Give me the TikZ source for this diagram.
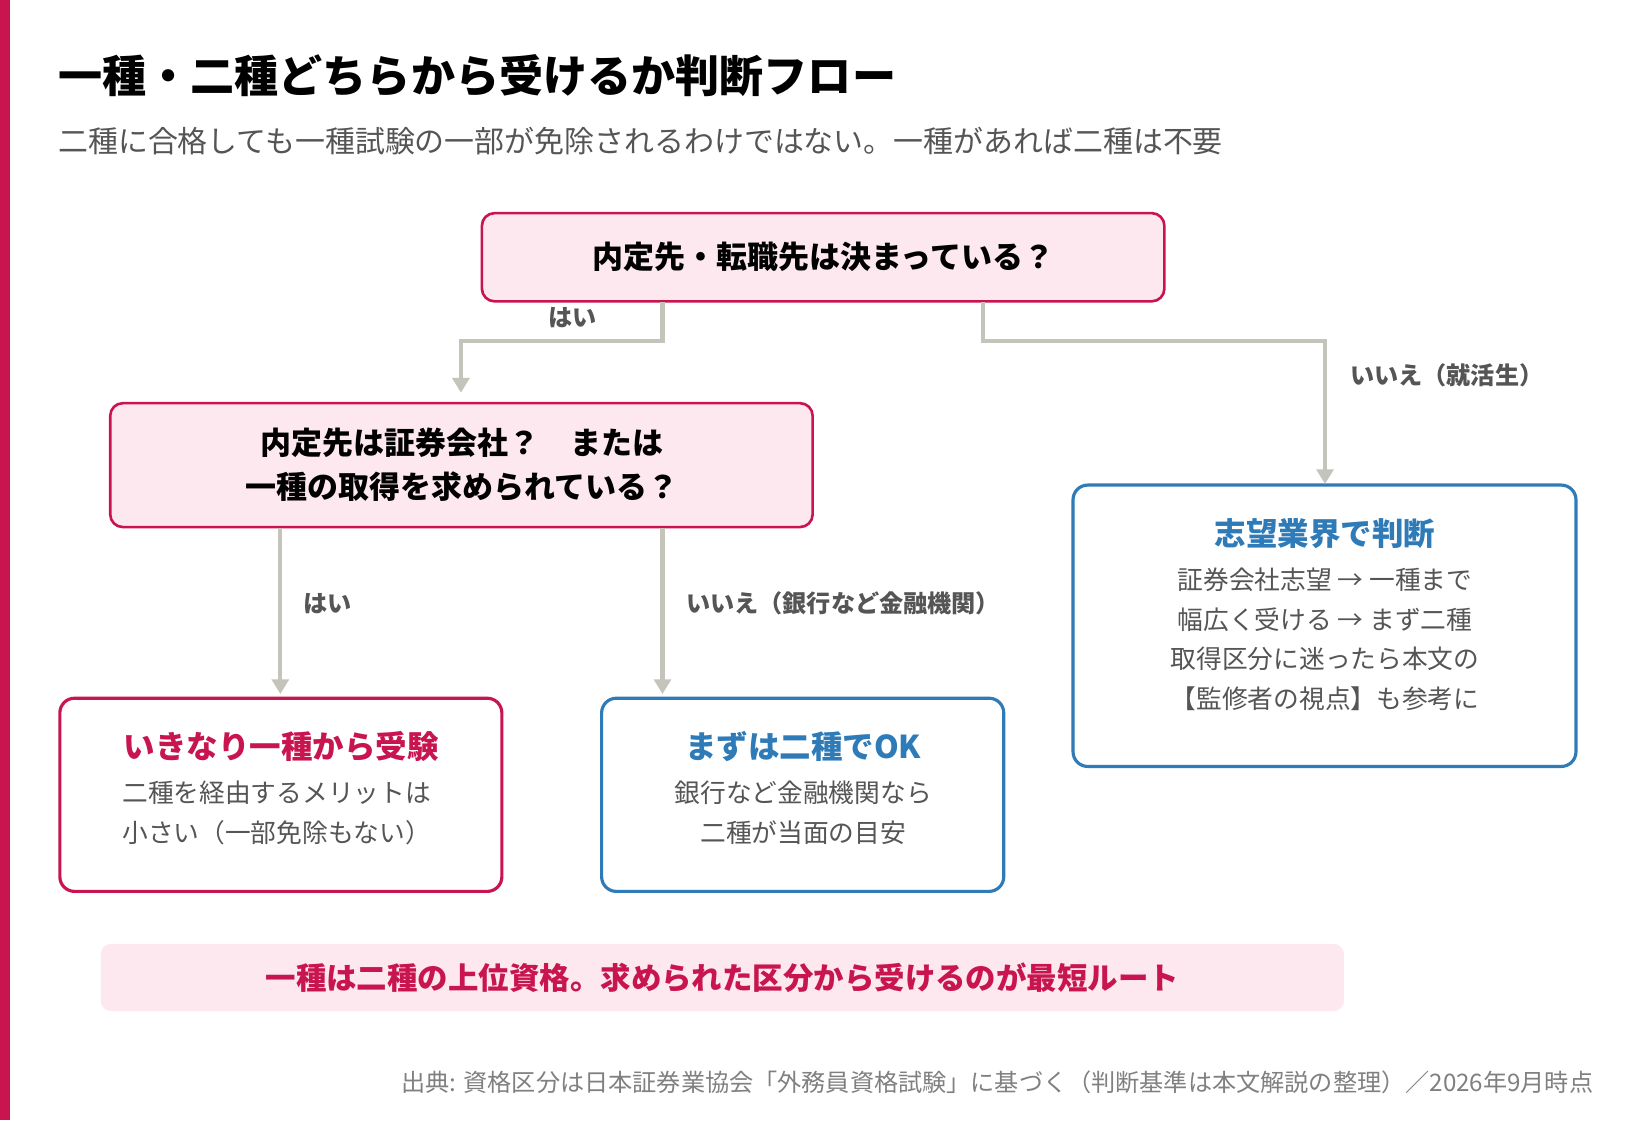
\documentclass[tikz,border=0pt]{standalone}
\usetikzlibrary{arrows.meta}
\usepackage{fontspec}
\setmainfont{Noto Sans CJK JP}
\definecolor{cred}{HTML}{C8154F}
\definecolor{cpink}{HTML}{FCE8EE}
\definecolor{cblue}{HTML}{2E7BB8}
\definecolor{cgray}{HTML}{C4C4BA}
\definecolor{ctext}{HTML}{555555}
\definecolor{clab}{HTML}{555555}
\begin{document}
\begin{tikzpicture}[x=1pt,y=-1pt,
 q/.style={draw=cred,line width=2.5pt,fill=cpink,rounded corners=12pt},
 rb/.style={draw=cred,line width=3pt,fill=white,rounded corners=14pt},
 bb/.style={draw=cblue,line width=3pt,fill=white,rounded corners=14pt},
 ar/.style={draw=cgray,line width=4pt,-{Triangle[length=14pt,width=16pt]}},
 lab/.style={font=\fontsize{23}{28}\selectfont\bfseries,text=clab},
 qt/.style={font=\fontsize{29.5}{42}\selectfont\bfseries,align=center},
 hd/.style={font=\fontsize{30}{36}\selectfont\bfseries},
 bd/.style={font=\fontsize{24.5}{38}\selectfont,text=ctext,align=center}]
\useasboundingbox (0,0) rectangle (1562,1067);
\fill[white] (0,0) rectangle (1562,1067);
\fill[cred] (0,0) rectangle (10,1067);
\node[anchor=west,font=\fontsize{42}{48}\selectfont\bfseries] (title) at (52,72) {一種・二種どちらから受けるか判断フロー};
\node[anchor=west,font=\fontsize{28.5}{34}\selectfont,text=ctext] (sub) at (52,134) {二種に合格しても一種試験の一部が免除されるわけではない。一種があれば二種は不要};
% boxes
\draw[q] (459,203) rectangle (1109,287);
\node[qt] (b1) at (784,245) {内定先・転職先は決まっている？};
\draw[q] (105,384) rectangle (774,502);
\node[qt] (b2) at (440,443) {内定先は証券会社？　または\\一種の取得を求められている？};
\draw[rb] (57,665) rectangle (478,849);
\node[hd,text=cred] (h3) at (268,711) {いきなり一種から受験};
\node[bd,align=left,anchor=north west] (t3) at (113,740) {二種を経由するメリットは\\小さい（一部免除もない）};
\draw[bb] (573,665) rectangle (956,849);
\node[hd,text=cblue] (h4) at (765,711) {まずは二種でOK};
\node[bd,anchor=north] (t4) at (765,740) {銀行など金融機関なら\\二種が当面の目安};
\draw[bb] (1022,462) rectangle (1501,730);
\node[hd,text=cblue] (h5) at (1262,508) {志望業界で判断};
\node[bd,anchor=north] (t5) at (1262,537) {証券会社志望 → 一種まで\\幅広く受ける → まず二種\\取得区分に迷ったら本文の\\【監修者の視点】も参考に};
\fill[cpink,rounded corners=10pt] (96,899) rectangle (1280,963);
\node[font=\fontsize{29}{34}\selectfont\bfseries,text=cred] (ban) at (688,931) {一種は二種の上位資格。求められた区分から受けるのが最短ルート};
\node[anchor=east,font=\fontsize{23}{28}\selectfont,text=black!50] (src) at (1521,1031) {出典: 資格区分は日本証券業協会「外務員資格試験」に基づく（判断基準は本文解説の整理）／2026年9月時点};
% connectors
\coordinate (s1) at (631,288); \coordinate (e1) at (439,374);
\coordinate (s2) at (936,288); \coordinate (e2) at (1262,461);
\draw[ar] (s1) |- (535,325) -| (e1);
\draw[ar] (s2) |- (1100,325) -| (e2);
\coordinate (s3) at (267,503); \coordinate (e3) at (267,661);
\coordinate (s4) at (631,503); \coordinate (e4) at (631,661);
\draw[ar] (s3) -- (e3);
\draw[ar] (s4) -- (e4);
\node[lab] (l1) at (545,303) {はい};
\node[lab] (l2) at (1378,357) {いいえ（就活生）};
\node[lab] (l3) at (312,575) {はい};
\node[lab,anchor=west] (l4) at (650,575) {いいえ（銀行など金融機関）};
\end{tikzpicture}
\end{document}
